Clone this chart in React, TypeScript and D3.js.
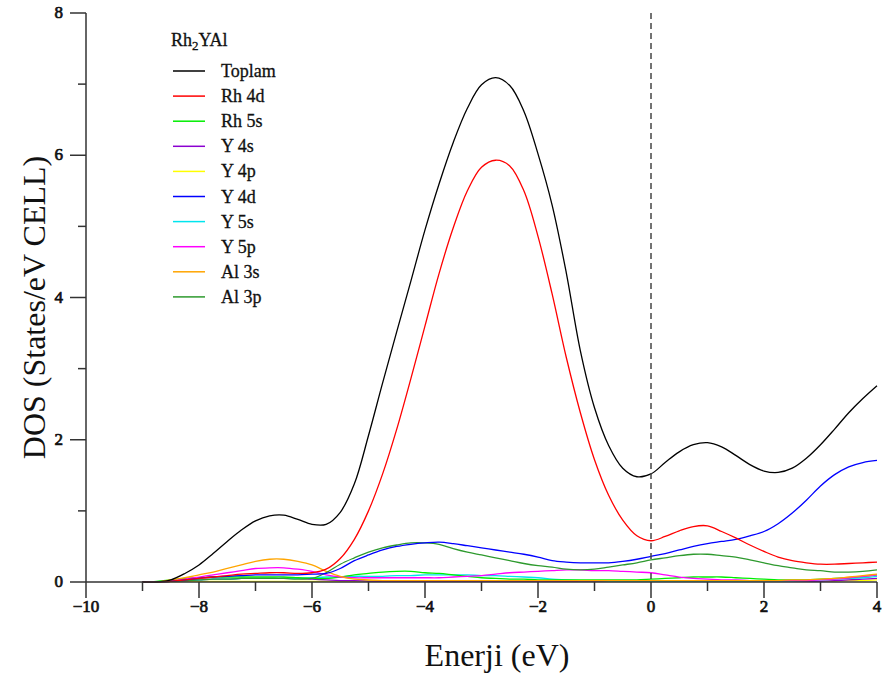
import React from "react";
import * as d3 from "d3";

const energy = [
  -9, -8.75, -8.5, -8.25, -8, -7.75, -7.5, -7.25, -7, -6.75, -6.5, -6.25, -6, -5.75, -5.5, -5.25,
  -5, -4.75, -4.5, -4.25, -4, -3.75, -3.5, -3.25, -3, -2.75, -2.5, -2.25, -2, -1.75, -1.5, -1.25,
  -1, -0.75, -0.5, -0.25, 0, 0.25, 0.5, 0.75, 1, 1.25, 1.5, 1.75, 2, 2.25, 2.5, 2.75, 3, 3.25,
  3.5, 3.75, 4,
];

const toplam = [
  0, 0, 0.03, 0.12, 0.24, 0.4, 0.57, 0.73, 0.86, 0.93, 0.94, 0.88, 0.81, 0.81, 0.98, 1.38,
  2.06, 2.8, 3.52, 4.23, 4.95, 5.6, 6.18, 6.66, 6.99, 7.09, 6.98, 6.62, 6.02, 5.3, 4.35, 3.25,
  2.45, 1.92, 1.6, 1.48, 1.52, 1.68, 1.83, 1.93, 1.96, 1.9, 1.78, 1.65, 1.56, 1.54, 1.6, 1.74,
  1.93, 2.15, 2.38, 2.58, 2.76,
];
const rh4d = [
  0, 0, 0.01, 0.03, 0.05, 0.07, 0.09, 0.11, 0.12, 0.13, 0.13, 0.12, 0.13, 0.18, 0.33, 0.6,
  1.0, 1.52, 2.15, 2.86, 3.6, 4.34, 4.98, 5.5, 5.83, 5.93, 5.85, 5.5, 4.86, 4.05, 3.16, 2.38,
  1.72, 1.22, 0.87, 0.65, 0.58, 0.64, 0.72, 0.78, 0.79, 0.71, 0.62, 0.52, 0.43, 0.35, 0.3, 0.27,
  0.25, 0.25, 0.26, 0.27, 0.28,
];
const rh5s = [
  0, 0.01, 0.03, 0.05, 0.06, 0.07, 0.07, 0.07, 0.07, 0.07, 0.07, 0.06, 0.05, 0.05, 0.07, 0.1,
  0.12, 0.14, 0.15, 0.15, 0.13, 0.12, 0.1, 0.08, 0.06, 0.05, 0.04, 0.04, 0.03, 0.03, 0.03, 0.03,
  0.03, 0.03, 0.03, 0.03, 0.04, 0.05, 0.06, 0.07, 0.07, 0.07, 0.06, 0.05, 0.04, 0.03, 0.03, 0.03,
  0.04, 0.05, 0.06, 0.08, 0.1,
];
const y4s = [
  0, 0, 0.01, 0.02, 0.03, 0.04, 0.04, 0.05, 0.05, 0.05, 0.05, 0.05, 0.04, 0.03, 0.02, 0.02,
  0.01, 0.01, 0.01, 0.01, 0.01, 0.01, 0.01, 0.01, 0.01, 0.01, 0.01, 0.01, 0.01, 0.01, 0.01, 0.01,
  0.01, 0.01, 0.01, 0.01, 0.01, 0.01, 0.01, 0.01, 0.01, 0.01, 0.01, 0.01, 0.01, 0.01, 0.01, 0.01,
  0.01, 0.02, 0.03, 0.04, 0.05,
];
const y4p = [
  0, 0, 0.005, 0.01, 0.01, 0.01, 0.01, 0.01, 0.01, 0.01, 0.01, 0.01, 0.01, 0.01, 0.01, 0.01,
  0.02, 0.02, 0.02, 0.02, 0.02, 0.02, 0.02, 0.02, 0.02, 0.02, 0.02, 0.02, 0.02, 0.015, 0.01, 0.01,
  0.01, 0.01, 0.01, 0.01, 0.01, 0.01, 0.01, 0.01, 0.01, 0.01, 0.01, 0.01, 0.01, 0.01, 0.01, 0.01,
  0.01, 0.01, 0.02, 0.02, 0.03,
];
const y4d = [
  0, 0, 0.01, 0.03, 0.05, 0.07, 0.08, 0.09, 0.1, 0.1, 0.1, 0.1, 0.11, 0.12, 0.19, 0.3,
  0.38, 0.45, 0.5, 0.53, 0.55, 0.56, 0.54, 0.51, 0.48, 0.45, 0.42, 0.39, 0.35, 0.3, 0.28, 0.27,
  0.27, 0.27, 0.29, 0.32, 0.36, 0.4, 0.45, 0.5, 0.54, 0.57, 0.6, 0.65, 0.71, 0.82, 0.97, 1.15,
  1.35, 1.51, 1.62, 1.68, 1.71,
];
const y5s = [
  0, 0, 0.01, 0.02, 0.03, 0.04, 0.04, 0.05, 0.05, 0.05, 0.05, 0.05, 0.06, 0.07, 0.07, 0.08,
  0.08, 0.08, 0.09, 0.09, 0.1, 0.1, 0.1, 0.1, 0.09, 0.09, 0.08, 0.07, 0.06, 0.04, 0.03, 0.02,
  0.02, 0.01, 0.01, 0.01, 0.01, 0.01, 0.01, 0.01, 0.01, 0.01, 0.01, 0.01, 0.01, 0.01, 0.01, 0.02,
  0.03, 0.04, 0.05, 0.06, 0.08,
];
const y5p = [
  0, 0, 0.02, 0.04, 0.07, 0.1, 0.13, 0.16, 0.19, 0.2, 0.2, 0.18, 0.15, 0.1, 0.07, 0.06,
  0.06, 0.06, 0.06, 0.06, 0.06, 0.06, 0.07, 0.08, 0.09, 0.11, 0.13, 0.14, 0.15, 0.16, 0.17, 0.17,
  0.16, 0.16, 0.15, 0.14, 0.13, 0.1, 0.07, 0.05, 0.04, 0.03, 0.03, 0.02, 0.02, 0.02, 0.02, 0.02,
  0.03, 0.04, 0.06, 0.08, 0.1,
];
const al3s = [
  0, 0, 0.03, 0.06, 0.1, 0.14, 0.19, 0.24, 0.29, 0.32, 0.32, 0.29, 0.24, 0.15, 0.08, 0.04,
  0.03, 0.02, 0.02, 0.02, 0.02, 0.02, 0.02, 0.02, 0.02, 0.02, 0.02, 0.02, 0.02, 0.02, 0.02, 0.02,
  0.02, 0.02, 0.02, 0.02, 0.02, 0.02, 0.02, 0.02, 0.02, 0.02, 0.02, 0.02, 0.02, 0.02, 0.03, 0.03,
  0.04, 0.05, 0.07, 0.09, 0.11,
];
const al3p = [
  0, 0, 0.01, 0.02, 0.03, 0.04, 0.04, 0.05, 0.05, 0.05, 0.05, 0.04, 0.05, 0.13, 0.25, 0.34,
  0.42, 0.48, 0.52, 0.55, 0.55, 0.53, 0.47, 0.42, 0.38, 0.34, 0.3, 0.26, 0.23, 0.21, 0.18, 0.17,
  0.18, 0.21, 0.24, 0.27, 0.31, 0.34, 0.37, 0.39, 0.39, 0.37, 0.35, 0.31, 0.27, 0.23, 0.2, 0.17,
  0.16, 0.14, 0.14, 0.15, 0.17,
];

const seriesNames = ["Toplam", "Rh 4d", "Rh 5s", "Y 4s", "Y 4p", "Y 4d", "Y 5s", "Y 5p", "Al 3s", "Al 3p"];
const seriesValues = [toplam, rh4d, rh5s, y4s, y4p, y4d, y5s, y5p, al3s, al3p];
const seriesColors = ["#000000", "#ff0000", "#00ee00", "#8b00d0", "#ffff00", "#0000ff", "#00e5ee", "#ff00ff", "#ffa500", "#2e9a2e"];
const drawOrder = [4, 3, 6, 2, 7, 8, 9, 5, 1, 0];

const xTicks = [-10, -8, -6, -4, -2, 0, 2, 4];
const xMinor = [-9, -7, -5, -3, -1, 1, 3];
const yTicks = [0, 2, 4, 6, 8];
const yMinor = [1, 3, 5, 7];

const W = 882;
const H = 679;
const serif = "'Liberation Serif', 'Times New Roman', serif";

export default function App() {
  const x = d3.scaleLinear().domain([-10, 4]).range([86, 877]);
  const y = d3.scaleLinear().domain([0, 8]).range([582, 13]);
  const line = d3
    .line<number>()
    .x((_, i) => x(energy[i]))
    .y((v) => y(Math.max(0, v)))
    .curve(d3.curveCatmullRom.alpha(0.5));

  const fmt = (v: number) => (v < 0 ? "\u2212" + Math.abs(v) : String(v));
  const axisColor = "#333";

  return (
    <svg width={W} height={H} style={{ position: "absolute", left: 0, top: 0, background: "#fff" }}>
      {drawOrder.map((k) => (
        <path key={k} d={line(seriesValues[k]) || ""} fill="none" stroke={seriesColors[k]} strokeWidth={1.3} />
      ))}
      <line x1={x(0)} x2={x(0)} y1={y(8)} y2={y(0)} stroke="#444" strokeWidth={1.5} strokeDasharray="6,4" />
      <line x1={x(-10)} x2={x(4)} y1={y(0)} y2={y(0)} stroke={axisColor} strokeWidth={1.5} />
      <line x1={x(-10)} x2={x(-10)} y1={y(0)} y2={y(8)} stroke={axisColor} strokeWidth={1.5} />
      {xTicks.map((t) => (
        <g key={"xt" + t}>
          <line x1={x(t)} x2={x(t)} y1={y(0)} y2={y(0) + 16} stroke={axisColor} strokeWidth={1.5} />
          <text x={x(t)} y={612} textAnchor="middle" fontFamily={serif} fontSize={17} fill="#111" stroke="#111" strokeWidth={0.7}>
            {fmt(t)}
          </text>
        </g>
      ))}
      {xMinor.map((t) => (
        <line key={"xm" + t} x1={x(t)} x2={x(t)} y1={y(0)} y2={y(0) + 9} stroke={axisColor} strokeWidth={1.5} />
      ))}
      {yTicks.map((t) => (
        <g key={"yt" + t}>
          <line x1={x(-10) - 16} x2={x(-10)} y1={y(t)} y2={y(t)} stroke={axisColor} strokeWidth={1.5} />
          <text x={63} y={y(t) + 5} textAnchor="end" fontFamily={serif} fontSize={17} fill="#111" stroke="#111" strokeWidth={0.7}>
            {fmt(t)}
          </text>
        </g>
      ))}
      {yMinor.map((t) => (
        <line key={"ym" + t} x1={x(-10) - 8} x2={x(-10)} y1={y(t)} y2={y(t)} stroke={axisColor} strokeWidth={1.5} />
      ))}
      <text x={497} y={666} textAnchor="middle" fontFamily={serif} fontSize={32} fill="#111">
        Enerji (eV)
      </text>
      <text
        transform={`translate(45,${y(4) + 10}) rotate(-90)`}
        textAnchor="middle"
        fontFamily={serif}
        fontSize={32}
        fill="#111"
      >
        DOS (States/eV CELL)
      </text>
      <text x={171} y={46} fontFamily={serif} fontSize={18} fill="#111" stroke="#111" strokeWidth={0.3}>
        Rh<tspan dy={4} fontSize={13}>2</tspan>
        <tspan dy={-4}>YAl</tspan>
      </text>
      {seriesNames.map((n, i) => {
        const ly = 71 + i * 25.1;
        return (
          <g key={n}>
            <line x1={173} x2={205} y1={ly} y2={ly} stroke={seriesColors[i]} strokeWidth={1.5} />
            <text x={221} y={ly + 6} fontFamily={serif} fontSize={18} fill="#111" stroke="#111" strokeWidth={0.3}>
              {n}
            </text>
          </g>
        );
      })}
    </svg>
  );
}
